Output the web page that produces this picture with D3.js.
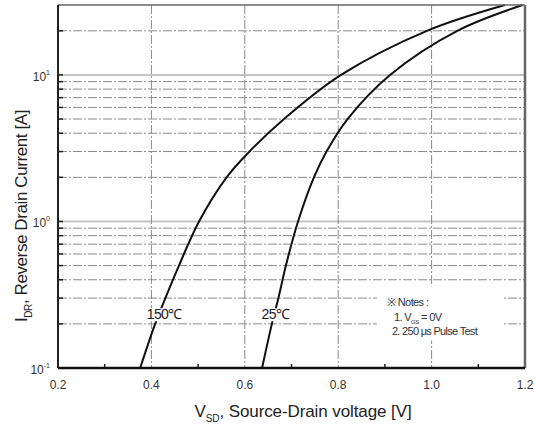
<!DOCTYPE html>
<html>
<head>
<meta charset="utf-8">
<script src="https://cdn.jsdelivr.net/npm/d3@7.9.0/dist/d3.min.js"></script>
<style>
  body { margin: 0; background: #fff; }
  svg { display: block; font-family: "Liberation Sans", Arial, sans-serif; }
</style>
</head>
<body>
<svg id="chart" width="535" height="427"></svg>
<script>
// current levels (A) where the curves were read
const current = [0.1, 0.2, 0.3, 0.5, 1, 2, 3, 5, 10, 20, 30];
// source-drain voltage (V) at each current level
const v150 = [0.376, 0.408, 0.43, 0.459, 0.502, 0.561, 0.61, 0.684, 0.806, 0.99, 1.157];
const v25 = [0.637, 0.658, 0.672, 0.688, 0.714, 0.748, 0.775, 0.82, 0.911, 1.055, 1.195];

const xTicks = [0.2, 0.4, 0.6, 0.8, 1.0, 1.2];
const xMinor = [0.3, 0.5, 0.7, 0.9, 1.1];
const yDecades = [0.1, 1, 10];
const yExp = ["-1", "0", "1"];
const yMinor = [0.2, 0.3, 0.4, 0.5, 0.6, 0.7, 0.8, 0.9, 2, 3, 4, 5, 6, 7, 8, 9, 20];

const margin = { top: 5, right: 10, bottom: 59, left: 58 };
const width = 535 - margin.left - margin.right;
const height = 427 - margin.top - margin.bottom;

const svg = d3.select("#chart");
const g = svg.append("g").attr("transform", `translate(${margin.left},${margin.top})`);

const x = d3.scaleLinear().domain([0.2, 1.2]).range([0, width]);
const y = d3.scaleLog().domain([0.1, 30]).range([height, 0]);

// grid: minor horizontal dash-dot
g.selectAll(".hminor").data(yMinor).enter().append("line")
    .attr("x1", 0).attr("x2", width)
    .attr("y1", d => y(d)).attr("y2", d => y(d))
    .attr("stroke", "#8a8a8a").attr("stroke-width", 1)
    .attr("stroke-dasharray", "9,2,2,2");

// decade lines, solid light
g.selectAll(".hmajor").data([1, 10]).enter().append("line")
    .attr("x1", 0).attr("x2", width)
    .attr("y1", d => y(d)).attr("y2", d => y(d))
    .attr("stroke", "#c4c4c4").attr("stroke-width", 2);

// vertical grid
g.selectAll(".vgrid").data(xTicks.slice(1, -1)).enter().append("line")
    .attr("x1", d => x(d)).attr("x2", d => x(d))
    .attr("y1", 0).attr("y2", height)
    .attr("stroke", "#8a8a8a").attr("stroke-width", 1)
    .attr("stroke-dasharray", "9,2,2,2");

// left inner ticks at grid levels
g.selectAll(".ltick").data(yMinor.concat([1, 10])).enter().append("line")
    .attr("x1", 0).attr("x2", 5)
    .attr("y1", d => y(d)).attr("y2", d => y(d))
    .attr("stroke", "#222").attr("stroke-width", 1.5);

// bottom minor ticks
g.selectAll(".btick").data(xMinor).enter().append("line")
    .attr("x1", d => x(d)).attr("x2", d => x(d))
    .attr("y1", height).attr("y2", height - 4)
    .attr("stroke", "#222").attr("stroke-width", 1.5);

// notes background (gridlines broken behind text)
g.append("rect")
    .attr("x", x(0.99) - 50).attr("y", y(0.36))
    .attr("width", 126).attr("height", 54)
    .attr("fill", "#fff");

// curves
const line = d3.line()
    .x(d => x(d[0]))
    .y(d => y(d[1]))
    .curve(d3.curveCatmullRom.alpha(0.5));

[v150, v25].forEach(v => {
    g.append("path")
        .datum(v.map((d, i) => [d, current[i]]))
        .attr("d", line)
        .attr("fill", "none")
        .attr("stroke", "#111")
        .attr("stroke-width", 2);
});

// frame
g.append("line").attr("x1", 0).attr("x2", width).attr("y1", 0).attr("y2", 0)
    .attr("stroke", "#666").attr("stroke-width", 1.5);
g.append("line").attr("x1", width).attr("x2", width).attr("y1", 0).attr("y2", height)
    .attr("stroke", "#666").attr("stroke-width", 2.5);
g.append("line").attr("x1", 0).attr("x2", 0).attr("y1", 0).attr("y2", height)
    .attr("stroke", "#222").attr("stroke-width", 2);
g.append("line").attr("x1", 0).attr("x2", width).attr("y1", height).attr("y2", height)
    .attr("stroke", "#111").attr("stroke-width", 2.5);

// x tick labels
g.selectAll(".xlab").data(xTicks).enter().append("text")
    .attr("x", d => x(d)).attr("y", height + 21)
    .attr("text-anchor", "middle")
    .attr("font-size", 12).attr("fill", "#333")
    .text(d => d.toFixed(1));

// y tick labels 10^n
yDecades.forEach((d, i) => {
    const t = g.append("text")
        .attr("x", -8).attr("y", y(d) + 6)
        .attr("text-anchor", "end")
        .attr("font-size", 12).attr("fill", "#333");
    t.append("tspan").text("10");
    t.append("tspan").attr("font-size", 7).attr("dy", -6).text(yExp[i]);
});

// curve labels with white backing so the curve breaks around them
[[0.39, "150℃"], [0.636, "25℃"]].forEach(([v, s]) => {
    const t = g.append("text").attr("x", x(v)).attr("y", y(0.215))
        .attr("font-size", 14).attr("fill", "#222").attr("letter-spacing", -0.6)
        .text(s);
    const b = t.node().getBBox();
    g.insert("rect", "text")
        .attr("x", b.x).attr("y", b.y + 2)
        .attr("width", b.width).attr("height", b.height - 3)
        .attr("fill", "#fff");
});

// notes
const nx = x(0.99) - 40;
const ny = y(0.3);
g.append("text").attr("x", nx).attr("y", ny + 8)
    .attr("font-size", 11).attr("fill", "#333").attr("letter-spacing", -0.6)
    .text("※ Notes :");
const n1 = g.append("text").attr("x", nx + 7).attr("y", ny + 23)
    .attr("font-size", 11).attr("fill", "#333").attr("letter-spacing", -0.6);
n1.append("tspan").text("1. V");
n1.append("tspan").attr("font-size", 6).attr("dy", 3).text("GS");
n1.append("tspan").attr("dy", -3).text(" = 0V");
g.append("text").attr("x", nx + 5).attr("y", ny + 37)
    .attr("font-size", 11).attr("fill", "#333").attr("letter-spacing", -0.7)
    .text("2. 250 μs Pulse Test");

// x axis title
const xt = svg.append("text")
    .attr("x", 303).attr("y", 417)
    .attr("text-anchor", "middle")
    .attr("font-size", 17).attr("fill", "#222").attr("letter-spacing", -0.1);
xt.append("tspan").text("V");
xt.append("tspan").attr("font-size", 10).attr("dy", 5).text("SD");
xt.append("tspan").attr("dy", -5).text(", Source-Drain voltage [V]");

// y axis title
const yt = svg.append("text")
    .attr("transform", `translate(27,216) rotate(-90)`)
    .attr("text-anchor", "middle")
    .attr("font-size", 17).attr("fill", "#222").attr("letter-spacing", -0.4);
yt.append("tspan").text("I");
yt.append("tspan").attr("font-size", 10).attr("dy", 5).text("DR");
yt.append("tspan").attr("dy", -5).text(", Reverse Drain Current [A]");
</script>
</body>
</html>
